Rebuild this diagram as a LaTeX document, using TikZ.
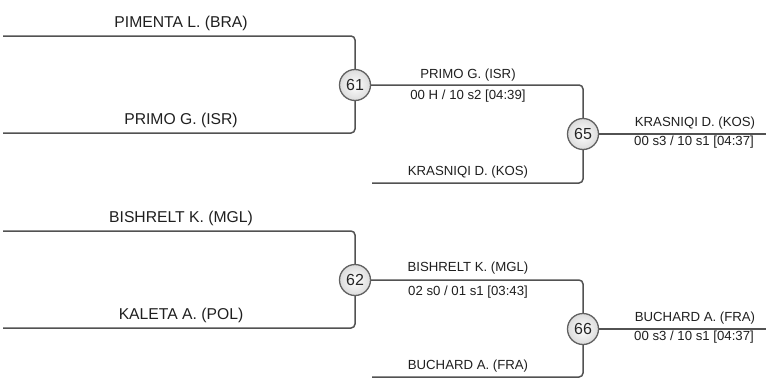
\documentclass[tikz,border=0pt]{standalone}
\usepackage{fontspec}
\setmainfont{Liberation Sans}
\usetikzlibrary{positioning}

\tikzset{
	trait/.style={draw=black!68, line width=1.5pt, rounded corners=4pt},
	combat/.style={circle, draw=black!62, line width=1.3pt, inner color=white, outer color=black!14, minimum size=31pt, inner sep=0pt, font=\fontsize{16}{18}\selectfont, text=black!85},
	nomA/.style={anchor=base, inner sep=0pt, font=\fontsize{15.7}{18}\selectfont, text=black!88},
	nomB/.style={anchor=base, inner sep=0pt, font=\fontsize{13.2}{15}\selectfont, text=black!88}
}

\begin{document}
\begin{tikzpicture}[x=1pt, y=-1pt]
	\useasboundingbox (0, 0) rectangle (766, 383);
	% Tableau du haut
	\coordinate (h1) at (3, 36);
	\coordinate (h2) at (3, 133);
	\coordinate (h3) at (372, 183);
	\coordinate (h4) at (766, 134);
	\node[combat] (m61) at (355, 85) {61};
	\node[combat] (m65) at (583, 134) {65};
	\draw[trait] (h1) -| (m61);
	\draw[trait] (h2) -| (m61);
	\draw[trait] (m61) -| (m65);
	\draw[trait] (h3) -| (m65);
	\draw[trait] (m65) -- (h4);
	\node[nomA] (pimenta) at (181, 27) {PIMENTA L. (BRA)};
	\node[nomA] (primo) at (181, 124) {PRIMO G. (ISR)};
	\node[nomB] (primoB) at (468, 78) {PRIMO G. (ISR)};
	\node[nomB] (score61) at (468, 99) {00 H / 10 s2 [04:39]};
	\node[nomB] (krasniqi) at (468, 175) {KRASNIQI D. (KOS)};
	\node[nomB] (krasniqiB) at (695, 126) {KRASNIQI D. (KOS)};
	\node[nomB] (score65) at (694, 145) {00 s3 / 10 s1 [04:37]};
	% Tableau du bas
	\coordinate (b1) at (3, 231);
	\coordinate (b2) at (3, 328);
	\coordinate (b3) at (372, 377);
	\coordinate (b4) at (766, 329);
	\node[combat] (m62) at (355, 280) {62};
	\node[combat] (m66) at (583, 329) {66};
	\draw[trait] (b1) -| (m62);
	\draw[trait] (b2) -| (m62);
	\draw[trait] (m62) -| (m66);
	\draw[trait] (b3) -| (m66);
	\draw[trait] (m66) -- (b4);
	\node[nomA] (bishrelt) at (181, 222) {BISHRELT K. (MGL)};
	\node[nomA] (kaleta) at (181, 319) {KALETA A. (POL)};
	\node[nomB] (bishreltB) at (468, 271) {BISHRELT K. (MGL)};
	\node[nomB] (score62) at (468, 295) {02 s0 / 01 s1 [03:43]};
	\node[nomB] (buchard) at (468, 369) {BUCHARD A. (FRA)};
	\node[nomB] (buchardB) at (695, 321) {BUCHARD A. (FRA)};
	\node[nomB] (score66) at (694, 340) {00 s3 / 10 s1 [04:37]};
\end{tikzpicture}
\end{document}
